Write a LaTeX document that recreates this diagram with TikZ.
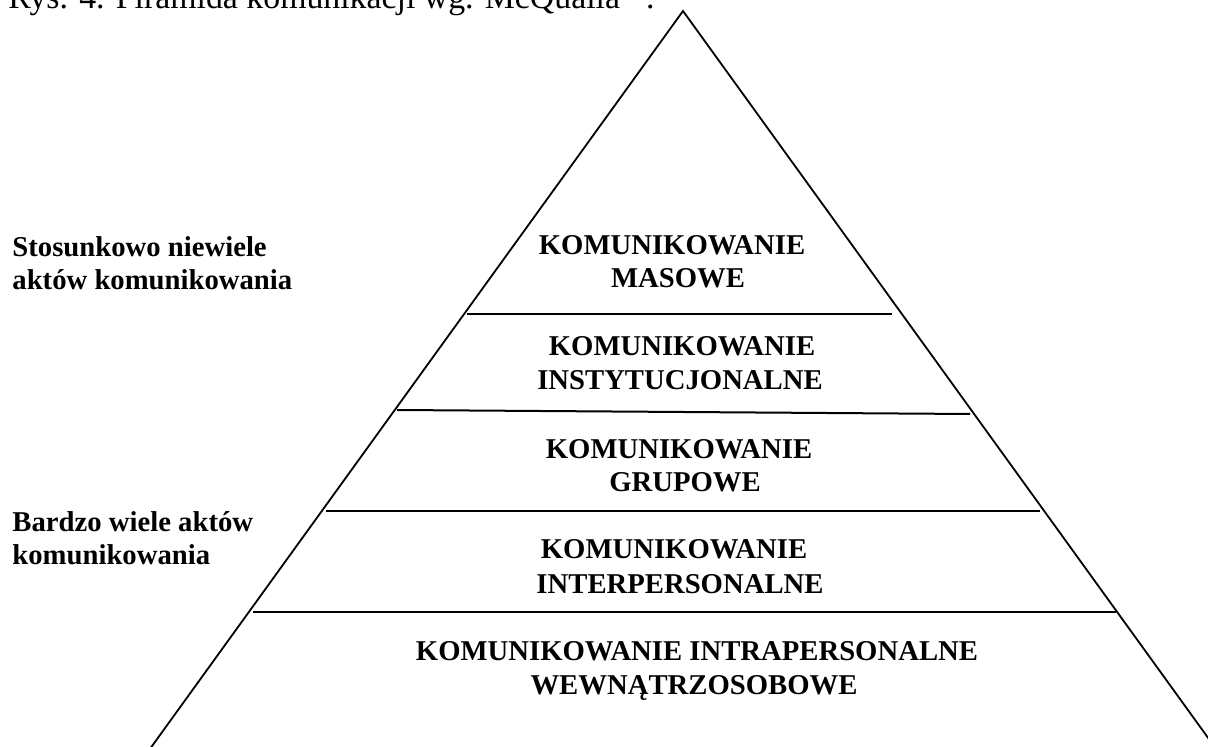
\documentclass[tikz,border=0pt]{standalone}
\usepackage{fontspec}
\setmainfont{Liberation Serif}
\begin{document}
\begin{tikzpicture}[x=0.5pt,y=-0.5pt,
  lab/.style={font=\fontsize{14.35}{16.5}\selectfont\bfseries, inner sep=0pt, anchor=base},
  side/.style={anchor=base west, font=\fontsize{14.35}{16.5}\selectfont\bfseries, inner sep=0pt},
  tier/.style={line width=1pt},
  edge/.style={line width=0.9pt}]
\useasboundingbox (0,0) rectangle (1208,747);
% title (cut at the top, as in the reference)
\node[anchor=base west, inner sep=0pt, font=\fontsize{16.9}{19}\selectfont] (title) at (8,9)
  {Rys. 4. Piramida komunikacji wg. McQuaila\hspace{13pt}.};
% pyramid
\coordinate (apex) at (683,11);
\coordinate (bl) at (134,771);
\coordinate (br) at (1232,771);
\draw[edge] (bl) -- (apex) -- (br);
% tiers
\coordinate (l1a) at (467,314); \coordinate (l1b) at (892,314);
\coordinate (l2a) at (397,410); \coordinate (l2b) at (970,414);
\coordinate (l3a) at (326,511); \coordinate (l3b) at (1040,511);
\coordinate (l4a) at (253,612); \coordinate (l4b) at (1116,612);
\draw[tier] (l1a) -- (l1b);
\draw[tier] (l2a) -- (l2b);
\draw[tier] (l3a) -- (l3b);
\draw[tier] (l4a) -- (l4b);
% labels
\node[lab] (m1) at (672,255) {KOMUNIKOWANIE};
\node[lab] (m2) at (678,288) {MASOWE};
\node[lab] (i1) at (682,356) {KOMUNIKOWANIE};
\node[lab] (i2) at (680,390) {INSTYTUCJONALNE};
\node[lab] (g1) at (679,459) {KOMUNIKOWANIE};
\node[lab] (g2) at (685,492) {GRUPOWE};
\node[lab] (p1) at (674,559) {KOMUNIKOWANIE};
\node[lab] (p2) at (680,593) {INTERPERSONALNE};
\node[lab] (w1) at (697,660) {KOMUNIKOWANIE INTRAPERSONALNE};
\node[lab] (w2) at (694,694) {WEWNĄTRZOSOBOWE};
% side notes
\node[side] (s1) at (12,257) {Stosunkowo niewiele};
\node[side] (s2) at (12,290) {aktów komunikowania};
\node[side] (b1) at (12,531) {Bardzo wiele aktów};
\node[side] (b2) at (12,564) {komunikowania};
\end{tikzpicture}
\end{document}
